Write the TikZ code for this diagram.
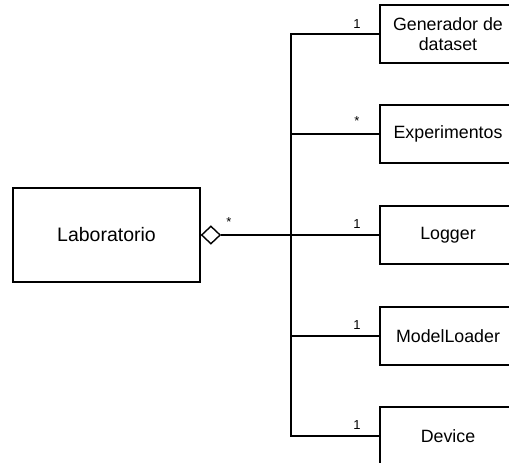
\documentclass[tikz,border=0pt]{standalone}
\usepackage{fontspec}
\setmainfont{Liberation Sans}
\usetikzlibrary{shapes.geometric}
\begin{document}
\begin{tikzpicture}[x=1pt,y=-1pt,
  box/.style={draw, line width=1.4pt, minimum height=58pt, minimum width=136pt, inner sep=0pt, align=center, font=\fontsize{17.8}{21}\selectfont},
  conn/.style={line width=1.4pt},
  mult/.style={inner sep=0pt, font=\fontsize{13}{14}\selectfont}]
\useasboundingbox (0,0) rectangle (509,463);
\clip (0,0) rectangle (509,463);
\node[box, minimum width=187pt, minimum height=94pt, font=\fontsize{19.5}{22}\selectfont] (lab) at (106.5,235) {Laboratorio};
\node[draw, line width=1.4pt, shape=diamond, inner sep=0pt, minimum width=19pt, minimum height=18pt, anchor=west, fill=white] (dia) at (lab.east) {};
\node[box] (gen) at (448,34) {Generador de\\[-1pt]dataset};
\node[box] (exp) at (448,134) {Experimentos};
\node[box] (log) at (448,235) {Logger};
\node[box] (mod) at (448,336) {ModelLoader};
\node[box] (dev) at (448,436) {Device};
\coordinate (j) at (291,235);
\draw[conn] (dia.east) -- (j);
\draw[conn] (j) |- (gen.west);
\draw[conn] (j) |- (exp.west);
\draw[conn] (j) -- (log.west);
\draw[conn] (j) |- (mod.west);
\draw[conn] (j) |- (dev.west);
\node[mult] (m0) at (229,222) {*};
\node[mult] (m1) at (357,24) {1};
\node[mult] (m2) at (357,121) {*};
\node[mult] (m3) at (357,224) {1};
\node[mult] (m4) at (357,325) {1};
\node[mult] (m5) at (357,425) {1};
\end{tikzpicture}
\end{document}
